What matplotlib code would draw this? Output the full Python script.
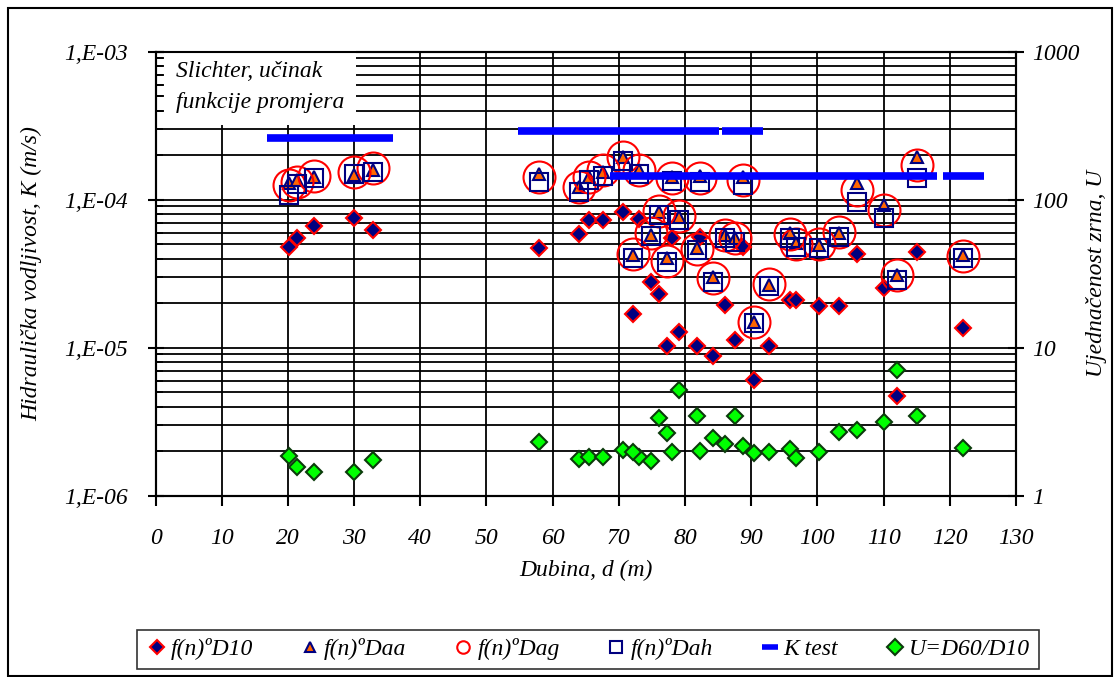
import matplotlib
matplotlib.use("Agg")
import matplotlib.pyplot as plt
from matplotlib.lines import Line2D
from matplotlib.patches import Rectangle
from matplotlib.ticker import LogLocator, FixedLocator, NullFormatter

plt.rcParams['font.family'] = ['Liberation Serif', 'DejaVu Serif']
plt.rcParams['font.style'] = 'italic'

# === PODACI ===
dubina = [20.1, 21.3, 24.0, 30.05, 32.8,
          58.0, 64.0, 65.5, 67.6, 70.6, 73.0, 72.1, 74.9, 76.1, 78.0,
          77.3, 79.1, 81.8, 82.2, 84.2, 86.1, 87.6, 88.7, 90.4, 92.7,
          95.8, 96.8, 100.3, 103.3, 106.0, 110.1, 112.0, 115.1, 122.0]

k_d10 = [4.81e-5, 5.53e-5, 6.64e-5, 7.48e-5, 6.24e-5,
         4.7e-5, 5.86e-5, 7.3e-5, 7.3e-5, 8.26e-5, 7.41e-5, 1.69e-5, 2.78e-5, 2.31e-5, 5.53e-5,
         1.03e-5, 1.28e-5, 1.03e-5, 5.57e-5, 8.8e-6, 1.93e-5, 1.13e-5, 4.8e-5, 6.05e-6, 1.03e-5,
         2.1e-5, 2.1e-5, 1.92e-5, 1.92e-5, 4.3e-5, 2.52e-5, 4.72e-6, 4.45e-5, 1.35e-5]

k_daa = [1.3e-4, 1.36e-4, 1.43e-4, 1.47e-4, 1.6e-4,
         1.49e-4, 1.21e-4, 1.43e-4, 1.53e-4, 1.95e-4, 1.59e-4, 4.23e-5, 5.77e-5, 8.3e-5, 1.43e-4,
         4.02e-5, 7.67e-5, 4.7e-5, 1.45e-4, 3.02e-5, 5.77e-5, 5.48e-5, 1.42e-4, 1.49e-5, 2.65e-5,
         5.98e-5, 5.07e-5, 4.94e-5, 5.93e-5, 1.29e-4, 9.2e-5, 3.1e-5, 1.95e-4, 4.23e-5]

k_dag = [1.26e-4, 1.32e-4, 1.44e-4, 1.55e-4, 1.64e-4,
         1.42e-4, 1.21e-4, 1.42e-4, 1.59e-4, 1.95e-4, 1.6e-4, 4.3e-5, 5.98e-5, 8.43e-5, 1.4e-4,
         3.85e-5, 7.76e-5, 4.62e-5, 1.4e-4, 2.94e-5, 5.77e-5, 5.53e-5, 1.36e-4, 1.5e-5, 2.69e-5,
         5.86e-5, 5.01e-5, 5.01e-5, 6.08e-5, 1.16e-4, 8.5e-5, 3.1e-5, 1.71e-4, 4.17e-5]

k_dah = [1.08e-4, 1.28e-4, 1.41e-4, 1.49e-4, 1.55e-4,
         1.32e-4, 1.13e-4, 1.36e-4, 1.44e-4, 1.84e-4, 1.49e-4, 4.02e-5, 5.69e-5, 7.88e-5, 1.34e-4,
         3.81e-5, 7.3e-5, 4.57e-5, 1.32e-4, 2.79e-5, 5.48e-5, 5.2e-5, 1.26e-4, 1.46e-5, 2.62e-5,
         5.48e-5, 4.81e-5, 4.7e-5, 5.62e-5, 9.7e-5, 7.48e-5, 2.86e-5, 1.4e-4, 4.02e-5]

u_d60_d10 = [1.85, 1.57, 1.44, 1.44, 1.74,
             2.3, 1.77, 1.84, 1.84, 2.04, 1.84, 1.96, 1.72, 3.33, 1.96,
             2.67, 5.18, 3.46, 2.01, 2.47, 2.23, 3.46, 2.18, 1.95, 1.96,
             2.06, 1.79, 1.96, 2.68, 2.78, 3.13, 7.07, 3.48, 2.09]

# K test - intervali dubine
k_test_od = [16.8, 54.7, 85.6, 68.7, 118.9]
k_test_do = [35.9, 85.1, 91.8, 118.1, 125.1]
k_test = [2.62e-4, 2.91e-4, 2.91e-4, 1.45e-4, 1.45e-4]

x_ticks = list(range(0, 131, 10))
k_ticks = [1e-6, 1e-5, 1e-4, 1e-3]
k_tick_labels = ["1,E-06", "1,E-05", "1,E-04", "1,E-03"]
u_ticks = [1, 10, 100, 1000]
u_tick_labels = ["1", "10", "100", "1000"]

# === GRAFIKON ===
fig = plt.figure(figsize=(11.15, 6.77), dpi=100)
ax = fig.add_axes([0.1395, 0.2678, 0.7717, 0.6558])
ax2 = ax.twinx()

navy = "#000080"
ax.plot(dubina, k_d10, ls="none", marker="D", ms=8.5, mfc=navy, mec="red", mew=1.5, zorder=3)
ax.plot(dubina, k_daa, ls="none", marker="^", ms=9, mfc="#FF6600", mec=navy, mew=1.5, zorder=4)
ax.plot(dubina, k_dag, ls="none", marker="o", ms=23, mfc="none", mec="red", mew=1.5, zorder=5)
ax.plot(dubina, k_dah, ls="none", marker="s", ms=12.5, mfc="none", mec=navy, mew=1.5, zorder=6)
ax.hlines(k_test, k_test_od, k_test_do, colors="#0000FF", lw=5.5, zorder=7)

ax2.plot(dubina, u_d60_d10, ls="none", marker="D", ms=8.5, mfc="#00FF00", mec="#0B3B0B", mew=1.5, zorder=3)

ax.set_xlim(0, 130)
ax.set_yscale("log")
ax.set_ylim(1e-6, 1e-3)
ax2.set_yscale("log")
ax2.set_ylim(1, 1000)

ax.set_xticks(x_ticks)
ax.set_xticklabels([str(t) for t in x_ticks])
ax.set_yticks(k_ticks)
ax.set_yticklabels(k_tick_labels)
ax.yaxis.set_minor_locator(LogLocator(base=10, subs=range(2, 10)))
ax.yaxis.set_minor_formatter(NullFormatter())
ax2.set_yticks(u_ticks)
ax2.set_yticklabels(u_tick_labels)
ax2.yaxis.set_minor_locator(FixedLocator([]))

ax.grid(True, which="major", color="black", lw=1.3)
ax.grid(True, which="minor", axis="y", color="black", lw=1.3)
ax.set_axisbelow(True)

for a in (ax, ax2):
    for s in a.spines.values():
        s.set_linewidth(1.5)
ax.tick_params(axis="x", direction="out", length=7, width=1.5, pad=16, labelsize=17)
ax.tick_params(axis="y", which="major", direction="inout", length=12, width=1.5, pad=14, labelsize=17)
ax.tick_params(axis="y", which="minor", direction="in", length=5, width=1.2)
ax2.tick_params(axis="y", which="major", direction="inout", length=12, width=1.5, pad=6, labelsize=17)

ax.set_xlabel("Dubina, d (m)", fontsize=17, labelpad=8)
ax.set_ylabel("Hidraulička vodljivost, K (m/s)", fontsize=17, labelpad=16)
ax2.set_ylabel("Ujednačenost zrna, U", fontsize=17, labelpad=4)

ax.text(0.024, 0.978, "Slichter, učinak\nfunkcije promjera", transform=ax.transAxes,
        ha="left", va="top", fontsize=17, linespacing=1.6, zorder=10,
        bbox=dict(facecolor="white", edgecolor="none", boxstyle="square,pad=0.5"))

# legenda
handles = [
    Line2D([], [], ls="none", marker="D", ms=7, mfc=navy, mec="red", mew=1.5),
    Line2D([], [], ls="none", marker="^", ms=7, mfc="#FF6600", mec=navy, mew=1.5),
    Line2D([], [], ls="none", marker="o", ms=9, mfc="none", mec="red", mew=1.5),
    Line2D([], [], ls="none", marker="s", ms=9, mfc="none", mec=navy, mew=1.5),
    Line2D([], [], ls="none", marker="_", ms=12, mec="#0000FF", mew=4),
    Line2D([], [], ls="none", marker="D", ms=8, mfc="#00FF00", mec="#0B3B0B", mew=1.5),
]
labels = ["f(n)ºD10", "f(n)ºDaa", "f(n)ºDag", "f(n)ºDah", "K test", "U=D60/D10"]
leg = fig.legend(handles, labels, loc="center", bbox_to_anchor=(0.527, 0.041), ncol=6,
                 fontsize=17, frameon=True, fancybox=False, edgecolor="black",
                 handletextpad=0.1, columnspacing=1.9, handlelength=1.0, borderpad=0.35)
leg.get_frame().set_linewidth(1.2)

fig.patches.append(Rectangle((0.007, 0.002), 0.99, 0.986, transform=fig.transFigure,
                             fill=False, edgecolor="black", lw=1.5))

fig.savefig("out.png", dpi=100)
